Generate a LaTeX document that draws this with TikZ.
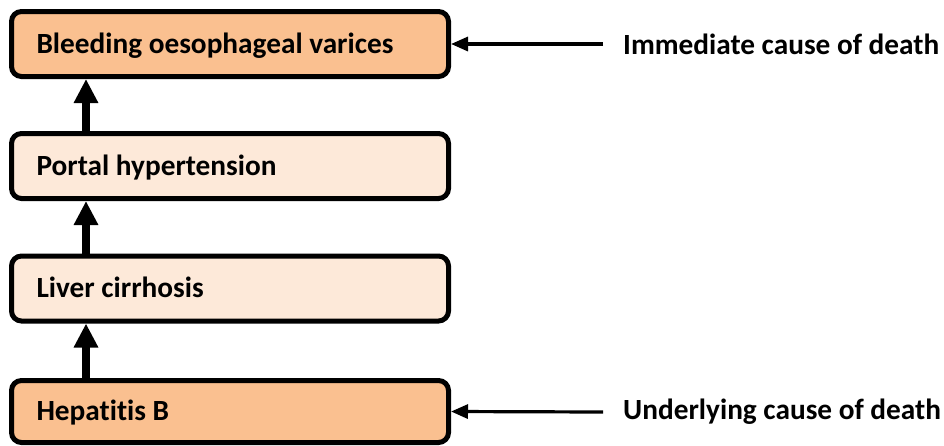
\documentclass[tikz,border=0pt]{standalone}
\usepackage{fontspec}
\setmainfont{Carlito}[Ligatures=NoCommon]
\usetikzlibrary{arrows.meta}
\definecolor{peachdark}{HTML}{FAC090}
\definecolor{peachlight}{HTML}{FDE9D9}

\begin{document}
\begin{tikzpicture}[x=1pt, y=-1pt,
        cause/.style={draw, line width=5pt, rounded corners=10pt,
            minimum width=437pt, minimum height=65pt, inner xsep=25pt,
            text width=387pt, align=flush left, text height=18.5pt, text depth=0pt,
            font=\fontsize{29.3}{35}\selectfont\bfseries},
        main/.style={cause, fill=peachdark},
        mid/.style={cause, fill=peachlight},
        tag/.style={anchor=west, inner sep=0pt, font=\fontsize{29.3}{35}\selectfont\bfseries},
        up/.style={-{Triangle[width=23pt, length=24pt]}, line width=7.5pt},
        point/.style={-{Triangle[width=14pt, length=17pt]}, line width=3.2pt}]
        \useasboundingbox (0, 0) rectangle (944, 445);
        % 死因链
        \node[main] (varices) at (230, 44) {Bleeding oesophageal varices};
        \node[mid] (portal) at (230, 166) {Portal hypertension};
        \node[mid] (cirrhosis) at (230, 288.5) {Liver cirrhosis};
        \node[main, minimum height=62pt] (hepb) at (230, 411.5) {Hepatitis B};
        \draw[up] ([xshift=77pt]portal.north west) -- ([xshift=77pt]varices.south west);
        \draw[up] ([xshift=77pt]cirrhosis.north west) -- ([xshift=77pt]portal.south west);
        \draw[up] ([xshift=77pt]hepb.north west) -- ([xshift=77pt]cirrhosis.south west);
        % 右侧标注
        \node[tag] (immediate) at (623, 44) {Immediate cause of death};
        \node[tag] (underlying) at (623, 412) {Underlying cause of death};
        \draw[point] ([xshift=-20pt]immediate.west) -- (varices.east);
        \draw[point] ([xshift=-20pt]underlying.west) -- (hepb.east);
    \end{tikzpicture}
\end{document}
